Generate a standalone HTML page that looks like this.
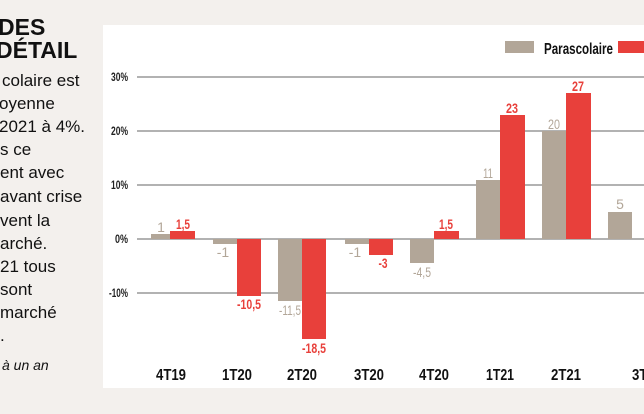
<!DOCTYPE html>
<html><head><meta charset="utf-8"><style>
body{margin:0;width:644px;height:414px;overflow:hidden;background:#f3f0ed;font-family:"Liberation Sans",sans-serif}
svg{position:absolute;left:0;top:0}
</style></head><body>
<svg width="644" height="414" viewBox="0 0 644 414">
<g font-family="Liberation Sans, sans-serif" fill="#111">
<text x="-2" y="35" font-size="23" font-weight="bold">DES</text>
<text x="-4" y="58" font-size="23" font-weight="bold">DÉTAIL</text>
<g font-size="17">
<text x="2" y="86">colaire est</text>
<text x="-1" y="109">oyenne</text>
<text x="-1" y="132">2021 à 4%.</text>
<text x="0" y="155">s ce</text>
<text x="0" y="178">ent avec</text>
<text x="0" y="202">avant crise</text>
<text x="0" y="226">vent la</text>
<text x="0" y="249">arché.</text>
<text x="0" y="272">21 tous</text>
<text x="0" y="295">sont</text>
<text x="0" y="318">marché</text>
<text x="0" y="341">.</text>
</g>
<text x="2" y="370" font-size="14" font-style="italic">à un an</text>
</g>
<rect x="103" y="25" width="541" height="363" fill="#fff"/>
<g stroke="#666" stroke-width="1">
<line x1="137" y1="77" x2="644" y2="77"/>
<line x1="137" y1="131" x2="644" y2="131"/>
<line x1="137" y1="185" x2="644" y2="185"/>
<line x1="137" y1="239" x2="644" y2="239"/>
<line x1="137" y1="293" x2="644" y2="293"/>
</g>
<g font-family="Liberation Sans, sans-serif" font-size="12" font-weight="bold" fill="#222">
<text x="111" y="81" textLength="17" lengthAdjust="spacingAndGlyphs">30%</text>
<text x="111" y="135" textLength="17" lengthAdjust="spacingAndGlyphs">20%</text>
<text x="111" y="189" textLength="17" lengthAdjust="spacingAndGlyphs">10%</text>
<text x="115" y="243" textLength="13" lengthAdjust="spacingAndGlyphs">0%</text>
<text x="109" y="297" textLength="19" lengthAdjust="spacingAndGlyphs">-10%</text>
</g>
<g fill="#b2a698">
<rect x="505" y="41" width="29" height="12"/>
<rect x="151" y="234" width="20" height="5"/>
<rect x="213" y="239" width="24" height="5"/>
<rect x="278" y="239" width="24" height="62"/>
<rect x="345" y="239" width="24" height="5"/>
<rect x="410" y="239" width="24" height="24"/>
<rect x="476" y="180" width="24" height="59"/>
<rect x="542" y="131" width="24" height="108"/>
<rect x="608" y="212" width="24" height="27"/>
</g>
<g fill="#e8403b">
<rect x="618" y="41" width="30" height="12"/>
<rect x="170" y="231" width="25" height="8"/>
<rect x="237" y="239" width="24" height="57"/>
<rect x="302" y="239" width="24" height="100"/>
<rect x="369" y="239" width="24" height="16"/>
<rect x="434" y="231" width="25" height="8"/>
<rect x="500" y="115" width="25" height="124"/>
<rect x="566" y="93" width="25" height="146"/>
</g>
<text x="544" y="54" font-family="Liberation Sans, sans-serif" font-size="16" font-weight="bold" fill="#111" textLength="69" lengthAdjust="spacingAndGlyphs">Parascolaire</text>
<g font-family="Liberation Sans, sans-serif" font-size="14" text-anchor="middle">
<g fill="#b2a698">
<text x="161" y="232">1</text><text x="223" y="257">-1</text><text x="290" y="315" textLength="22" lengthAdjust="spacingAndGlyphs">-11,5</text><text x="355" y="257">-1</text><text x="422" y="277" textLength="18" lengthAdjust="spacingAndGlyphs">-4,5</text><text x="488" y="178" textLength="10" lengthAdjust="spacingAndGlyphs">11</text><text x="554" y="129" textLength="12" lengthAdjust="spacingAndGlyphs">20</text><text x="620" y="209">5</text>
</g>
<g fill="#e8403b" font-weight="bold">
<text x="183" y="229" textLength="14" lengthAdjust="spacingAndGlyphs">1,5</text><text x="249" y="309" textLength="24" lengthAdjust="spacingAndGlyphs">-10,5</text><text x="314" y="353" textLength="24" lengthAdjust="spacingAndGlyphs">-18,5</text><text x="383" y="268" textLength="9" lengthAdjust="spacingAndGlyphs">-3</text><text x="446" y="229" textLength="14" lengthAdjust="spacingAndGlyphs">1,5</text><text x="512" y="113" textLength="12" lengthAdjust="spacingAndGlyphs">23</text><text x="578" y="91" textLength="12" lengthAdjust="spacingAndGlyphs">27</text>
</g>
</g>
<g font-family="Liberation Sans, sans-serif" font-size="16" font-weight="bold" fill="#111" text-anchor="middle">
<text x="171" y="380" textLength="30" lengthAdjust="spacingAndGlyphs">4T19</text>
<text x="237" y="380" textLength="30" lengthAdjust="spacingAndGlyphs">1T20</text>
<text x="302" y="380" textLength="30" lengthAdjust="spacingAndGlyphs">2T20</text>
<text x="369" y="380" textLength="30" lengthAdjust="spacingAndGlyphs">3T20</text>
<text x="434" y="380" textLength="30" lengthAdjust="spacingAndGlyphs">4T20</text>
<text x="500" y="380" textLength="28" lengthAdjust="spacingAndGlyphs">1T21</text>
<text x="566" y="380" textLength="30" lengthAdjust="spacingAndGlyphs">2T21</text>
<text x="647" y="380" textLength="30" lengthAdjust="spacingAndGlyphs">3T21</text>
</g>
</svg>
</body></html>
